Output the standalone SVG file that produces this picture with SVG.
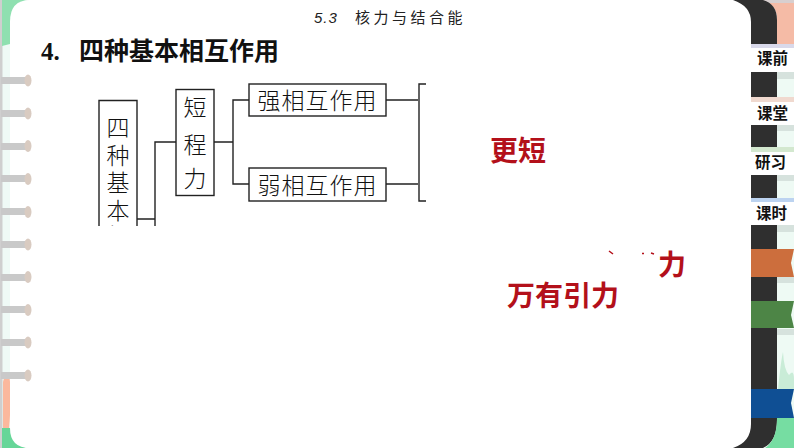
<svg xmlns="http://www.w3.org/2000/svg" width="794" height="448" viewBox="0 0 794 448">
<style>
.box{fill:#fff;stroke:#222;stroke-width:1.4}
.line{fill:none;stroke:#222;stroke-width:1.4}
.t{font-family:"Noto Sans CJK SC","Liberation Serif",serif;font-weight:300;font-size:23px;fill:#111;text-anchor:middle}
.w{letter-spacing:1px}
.r{font-family:"Noto Sans CJK SC",sans-serif;font-weight:700;font-size:28px;fill:#b3101a}
.tab{font-family:"Noto Sans CJK SC",sans-serif;font-weight:700;font-size:15.5px;fill:#111;text-anchor:middle}
.dark{fill:#2f2f2f}.mint{fill:#eefaf4}.cap{fill:#d6e2dd}
.peg{fill:#c9c9c9}.pegend{fill:#d9cbc1}
</style>
<defs><clipPath id="cut"><rect x="90" y="90" width="60" height="136"/></clipPath></defs>
<rect width="794" height="448" fill="#fff"/>
<g id="background">
<rect x="0" y="0" width="30" height="448" fill="#effaf6"/>
<rect x="0" y="0" width="794" height="2" fill="#dcdcdc"/>
<rect x="0" y="0" width="2.500" height="448" fill="#cfcfcf"/>
<path d="M2 0H27Q12 12 10 22V44L2 46Z" fill="#8fe0b0"/>
<path d="M3 382Q8 362 10 382L11 400L9 430H3Z" fill="#fbb89d"/>
<path d="M2 428H11Q14 442 26 448H2Z" fill="#66d698"/>
<path d="M30 0H752V448H30Q10 448 10 428V22Q10 0 30 0Z" fill="#fff"/>
<rect x="777" y="0" width="17" height="448" class="mint"/>
<path d="M763 0H794V44H777V18Q777 6 763 0Z" fill="#f5bba6"/>
<rect x="763" y="0" width="31" height="3" fill="#d8cfcf"/>
<path d="M733 0H763Q777 4 777 20V420Q777 442 763 448H733Q751 442 751 424V22Q751 6 733 0Z" class="dark"/>
</g>
<g id="right-tabs">
<rect x="777" y="72" width="17" height="7" class="cap"/>
<rect x="777" y="125" width="17" height="6" class="cap"/>
<rect x="777" y="175" width="17" height="6" class="cap"/>
<rect x="777" y="225" width="17" height="7" class="cap"/>
<rect x="777" y="277" width="17" height="6" class="cap"/>
<rect x="777" y="329" width="17" height="6" class="cap"/>
<rect x="751" y="44" width="43" height="28" fill="#fff"/><rect x="751" y="44" width="43" height="4" fill="#d9d9ea"/>
<text class="tab" x="772.500" y="64">课前</text>
<rect x="751" y="97" width="43" height="28" fill="#fff"/><rect x="751" y="97" width="43" height="5" fill="#f0d9cf"/>
<text class="tab" x="772.500" y="119">课堂</text>
<rect x="751" y="147" width="43" height="28" fill="#fff"/><rect x="751" y="147" width="43" height="5" fill="#d3e8cf"/>
<text class="tab" x="770.500" y="168">研习</text>
<rect x="751" y="198" width="43" height="27" fill="#fff"/><rect x="751" y="198" width="43" height="4" fill="#bcd3f0"/>
<text class="tab" x="771.500" y="219">课时</text>
<path d="M778 389Q781 360 783 352Q784 370 789 375Q794 368 794 380V389Z" fill="#c9ecd7"/>
<path d="M751 249H794L791 263L794 277H751Z" fill="#cc6e3d"/>
<path d="M751 301H794L791 315L794 328H751Z" fill="#4d8546"/>
<path d="M751 389H794L791 403L794 418H751Z" fill="#0f4f94"/>
<path d="M777 418H794V448H765Q777 440 777 418Z" fill="#76dda2"/>
</g>
<g id="binder-rings">
<g id="ring-1"><rect x="1" y="77" width="27" height="7" class="peg"/><ellipse cx="28" cy="80.500" rx="3.500" ry="6" class="pegend"/></g>
<g id="ring-2"><rect x="1" y="110" width="27" height="7" class="peg"/><ellipse cx="28" cy="113.500" rx="3.500" ry="6" class="pegend"/></g>
<g id="ring-3"><rect x="1" y="143" width="27" height="7" class="peg"/><ellipse cx="28" cy="146" rx="3.500" ry="6" class="pegend"/></g>
<g id="ring-4"><rect x="1" y="175" width="27" height="7" class="peg"/><ellipse cx="28" cy="179" rx="3.500" ry="6" class="pegend"/></g>
<g id="ring-5"><rect x="1" y="208" width="27" height="7" class="peg"/><ellipse cx="28" cy="212" rx="3.500" ry="6" class="pegend"/></g>
<g id="ring-6"><rect x="1" y="241" width="27" height="7" class="peg"/><ellipse cx="28" cy="244.500" rx="3.500" ry="6" class="pegend"/></g>
<g id="ring-7"><rect x="1" y="274" width="27" height="7" class="peg"/><ellipse cx="28" cy="277" rx="3.500" ry="6" class="pegend"/></g>
<g id="ring-8"><rect x="1" y="306" width="27" height="7" class="peg"/><ellipse cx="28" cy="310" rx="3.500" ry="6" class="pegend"/></g>
<g id="ring-9"><rect x="1" y="339" width="27" height="7" class="peg"/><ellipse cx="28" cy="342.500" rx="3.500" ry="6" class="pegend"/></g>
<g id="ring-10"><rect x="1" y="372" width="27" height="7" class="peg"/><ellipse cx="28" cy="375.500" rx="3.500" ry="6" class="pegend"/></g>
</g>
<g id="header">
<text x="314" y="23" font-family="'Liberation Sans',sans-serif" font-size="15" font-style="italic" fill="#222" letter-spacing="1">5.3</text>
<text x="355" y="23" font-family="'Noto Sans CJK SC',sans-serif" font-size="15" fill="#222" letter-spacing="3.500">核力与结合能</text>
<text x="41" y="60" font-family="'Liberation Serif',serif" font-weight="700" font-size="25" fill="#111">4.</text>
<text x="79" y="60" font-family="'Noto Sans CJK SC',sans-serif" font-weight="700" font-size="25" fill="#111">四种基本相互作用</text>
</g>
<g id="connectors">
<path class="line" d="M137 219H155M155 226V142H176"/>
<path class="line" d="M214 142H233V100H249M233 142V184H249"/>
<path class="line" d="M386 100H418M386 184H418"/>
<path class="line" d="M426 84H419V201H426"/>
</g>
<g id="node-four"><path class="box" d="M99 226V100.500H137V226"/>
<text class="t" clip-path="url(#cut)"><tspan x="118" y="136">四</tspan><tspan x="118" y="163.500">种</tspan><tspan x="118" y="191">基</tspan><tspan x="118" y="218.500">本</tspan><tspan x="118" y="245">相</tspan></text></g>
<g id="node-short"><rect class="box" x="176" y="89.500" width="38" height="106"/>
<text class="t"><tspan x="195" y="116">短</tspan><tspan x="195" y="153">程</tspan><tspan x="195" y="187">力</tspan></text></g>
<g id="node-strong"><rect class="box" x="249" y="84" width="137" height="32"/><text class="t w" x="317.500" y="108.500">强相互作用</text></g>
<g id="node-weak"><rect class="box" x="249" y="168" width="137" height="33"/><text class="t w" x="317.500" y="193.500">弱相互作用</text></g>
<g id="labels">
<text class="r" x="490" y="161">更短</text>
<text class="r" x="658" y="275">力</text>
<text class="r" x="507" y="306">万有引力</text>
<path d="M609 251L613 254M642 253.500H644M651 253L654 254" stroke="#b3101a" stroke-width="1.500"/>
</g>
</svg>
